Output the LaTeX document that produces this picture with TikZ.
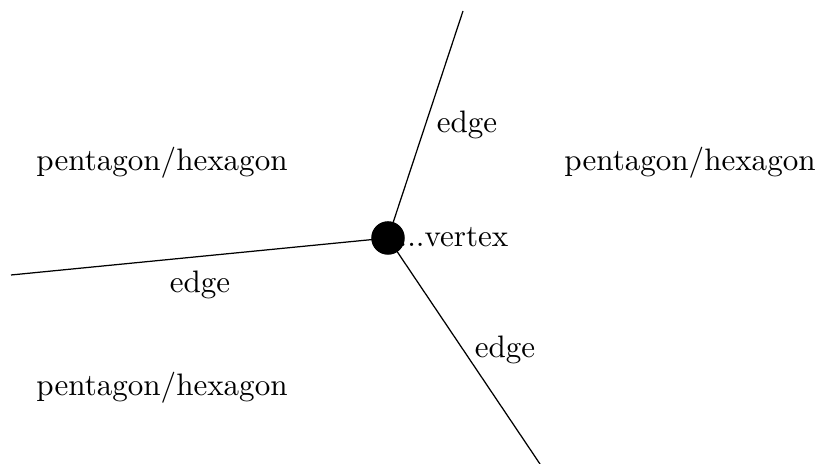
\documentclass[tikz,border=0pt]{standalone}
\begin{document}
\begin{tikzpicture}[x=0.322pt,y=-0.322pt,
  lbl/.style={inner sep=0pt,anchor=base},
  edgeline/.style={draw=black,line width=0.4pt},
  vtx/.style={circle,fill=black,minimum size=10.8pt,inner sep=0pt}]
\useasboundingbox (0,0) rectangle (819,464);
\coordinate (t) at (463,11);
\coordinate (l) at (11,275);
\coordinate (b) at (540,464);
\node[lbl,anchor=base west] (vl) at (398,247) {...vertex};
\node[vtx] (v) at (388,238) {};
\draw[edgeline] (v.center) -- (t);
\draw[edgeline] (v.center) -- (l);
\draw[edgeline] (v.center) -- (b);
\node[lbl] (e1) at (467,133) {edge};
\node[lbl] (e2) at (200,293) {edge};
\node[lbl] (e3) at (505,358) {edge};
\node[lbl] (p1) at (162,171) {pentagon/hexagon};
\node[lbl] (p2) at (690,171) {pentagon/hexagon};
\node[lbl] (p3) at (162,396) {pentagon/hexagon};
\end{tikzpicture}
\end{document}
